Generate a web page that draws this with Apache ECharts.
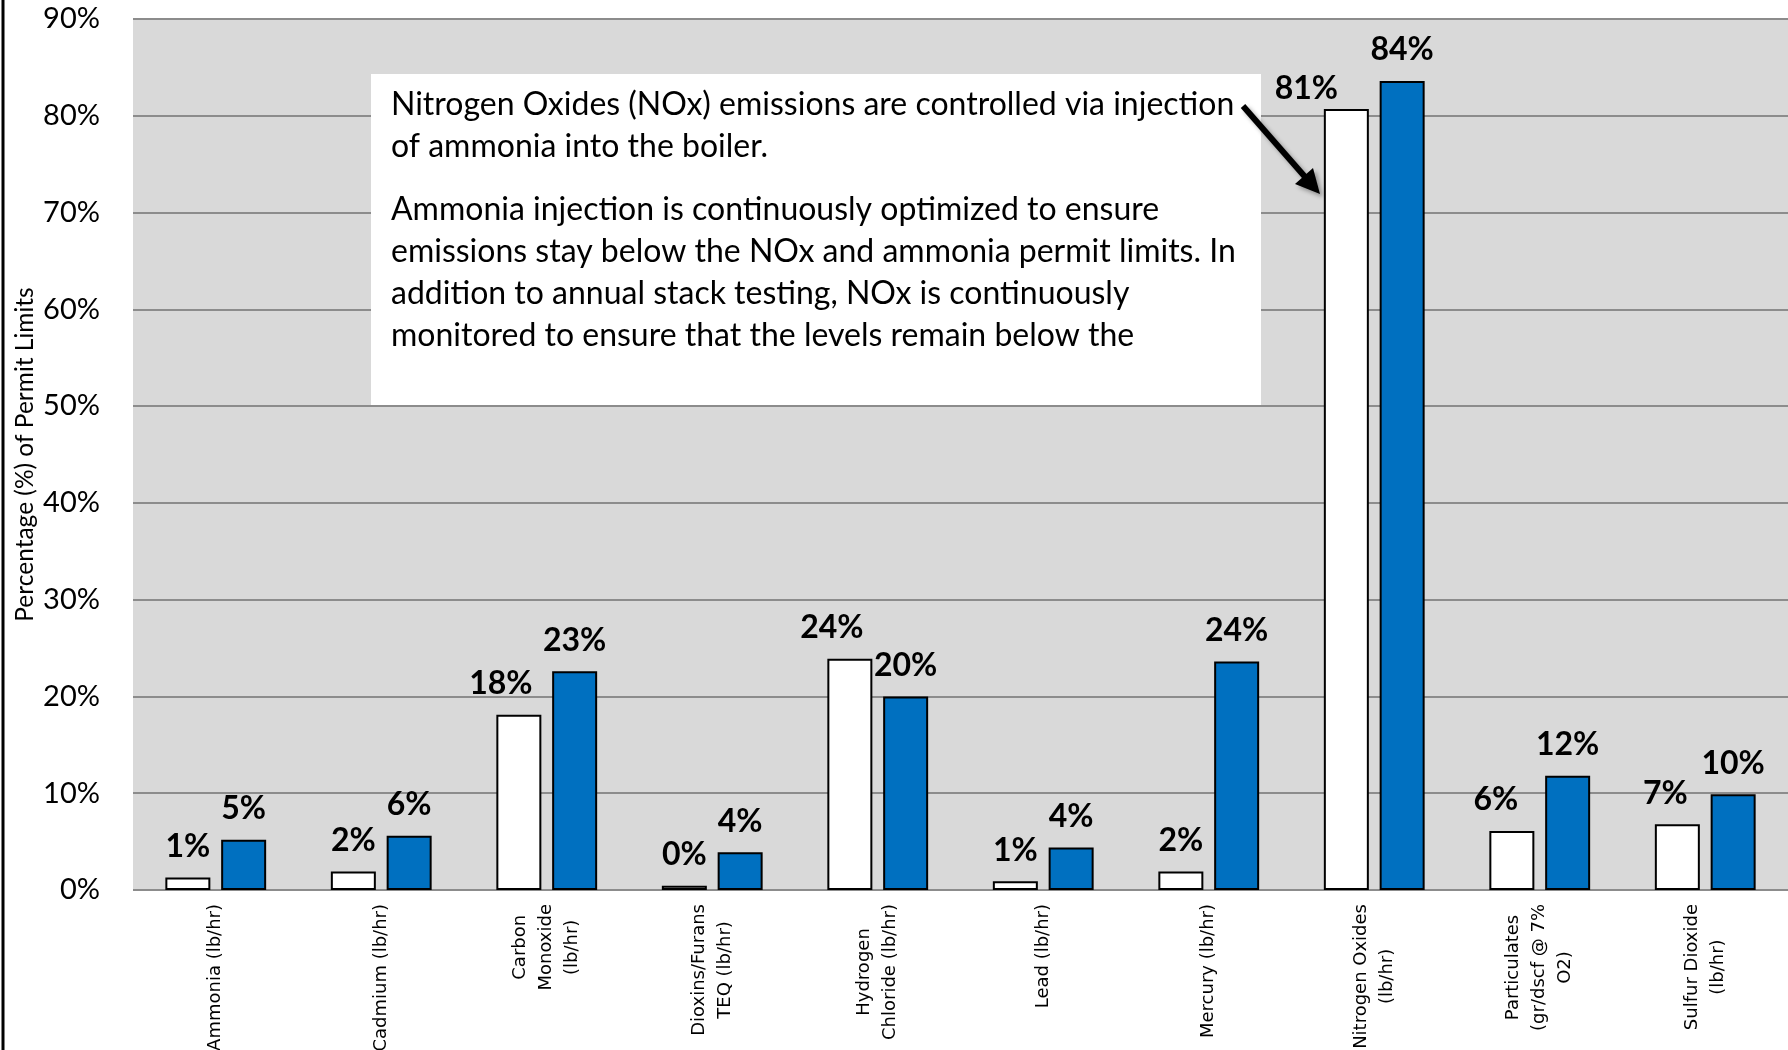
<!DOCTYPE html>
<html>
<head>
<meta charset="utf-8">
<script src="https://cdn.jsdelivr.net/npm/echarts@6/dist/echarts.min.js"></script>
<style>
  html, body { margin: 0; padding: 0; background: #fff; }
  #chart { width: 1788px; height: 1050px; }
</style>
</head>
<body>
<div id="chart"></div>
<script>
// categories (multi-line like the original axis)
var categories = [
    'Ammonia (lb/hr)',
    'Cadmium (lb/hr)',
    'Carbon\nMonoxide\n(lb/hr)',
    'Dioxins/Furans\nTEQ (lb/hr)',
    'Hydrogen\nChloride (lb/hr)',
    'Lead (lb/hr)',
    'Mercury (lb/hr)',
    'Nitrogen Oxides\n(lb/hr)',
    'Particulates\n(gr/dscf @ 7%\nO2)',
    'Sulfur Dioxide\n(lb/hr)'
];
// % of permit limit
var whiteValues = [1.3, 1.9, 18.1, 0.45, 23.9, 0.9, 1.9, 80.7, 6.1, 6.8];
var blueValues = [5.2, 5.6, 22.6, 3.9, 20.0, 4.4, 23.6, 83.6, 11.8, 9.9];
var yTicks = [0, 10, 20, 30, 40, 50, 60, 70, 80, 90];

var noteText1 = 'Nitrogen Oxides (NOx) emissions are controlled via injection\nof ammonia into the boiler.';
var noteText2 = 'Ammonia injection is continuously optimized to ensure\nemissions stay below the NOx and ammonia permit limits. In\naddition to annual stack testing, NOx is continuously\nmonitored to ensure that the levels remain below the';

// label nudges for the white series (moved by hand in the original)
var whiteLabelShift = [[0, 0], [0, 0], [-18, 0], [0, 0], [-18, 0], [0, 0], [0, 0], [-40, 11], [-16, 0], [-12, 0]];

var chart = echarts.init(document.getElementById('chart'));

var labelStyle = {
    show: true,
    position: 'top',
    distance: 15,
    fontFamily: 'Lato',
    fontWeight: 'bold',
    fontSize: 32,
    color: '#000',
    formatter: function (p) {
        return Math.round(p.value) + '%';
    }
};

var whiteData = whiteValues.map(function (v, i) {
    return {
        value: v,
        label: {offset: whiteLabelShift[i]}
    };
});

var arrowShadow = {shadowBlur: 4, shadowOffsetX: 3, shadowOffsetY: 3, shadowColor: 'rgba(0,0,0,0.35)'};

chart.setOption({
    animation: false,
    grid: {
        left: 133,
        top: 19,
        right: 0,
        bottom: 160,
        outerBoundsMode: 'none',
        show: true,
        backgroundColor: '#d9d9d9',
        borderWidth: 0
    },
    xAxis: {
        type: 'category',
        data: categories,
        axisLine: {show: false},
        axisTick: {show: false},
        axisLabel: {
            rotate: 90,
            margin: 14,
            interval: 0,
            fontFamily: 'DejaVu Sans',
            fontSize: 18,
            lineHeight: 26,
            color: '#000',
            formatter: function (v) {
                return v.split('\n').map(function (s) {
                    return '{c|' + s + '}';
                }).join('\n');
            },
            rich: {
                c: {
                    align: 'center',
                    fontFamily: 'DejaVu Sans',
                    fontSize: 18,
                    lineHeight: 26,
                    color: '#000'
                }
            }
        }
    },
    yAxis: {
        type: 'value',
        min: yTicks[0],
        max: yTicks[yTicks.length - 1],
        interval: 10,
        name: 'Percentage (%) of Permit Limits',
        nameLocation: 'middle',
        nameGap: 95,
        nameMoveOverlap: false,
        nameTextStyle: {
            fontFamily: 'Lato',
            fontSize: 24.5,
            color: '#000'
        },
        axisLine: {show: false},
        axisTick: {show: false},
        axisLabel: {
            margin: 33,
            fontFamily: 'Lato',
            fontSize: 29,
            color: '#000',
            formatter: '{value}%'
        },
        splitLine: {
            lineStyle: {color: '#8c8c8c', width: 2}
        }
    },
    series: [
        {
            name: 'Previous',
            type: 'bar',
            barWidth: 45,
            barGap: '24%',
            data: whiteData,
            itemStyle: {color: '#ffffff', borderColor: '#000', borderWidth: 2},
            label: labelStyle
        },
        {
            name: 'Current',
            type: 'bar',
            barWidth: 45,
            data: blueValues,
            itemStyle: {color: '#0070c0', borderColor: '#000', borderWidth: 2},
            label: labelStyle
        }
    ],
    graphic: [
        // chart area border on the left
        {
            type: 'line',
            shape: {x1: 3, y1: 0, x2: 3, y2: 1050},
            style: {stroke: '#000', lineWidth: 3}
        },
        // note box
        {
            type: 'rect',
            shape: {x: 371, y: 74, width: 890, height: 331},
            style: {fill: '#fff'},
            z: 10
        },
        {
            type: 'text',
            x: 391,
            y: 84,
            style: {
                text: noteText1,
                font: '32px Lato',
                lineHeight: 42,
                fill: '#000'
            },
            z: 11
        },
        {
            type: 'text',
            x: 391,
            y: 189,
            style: {
                text: noteText2,
                font: '32px Lato',
                lineHeight: 42,
                fill: '#000'
            },
            z: 11
        },
        // arrow pointing at the NOx bar
        {
            type: 'line',
            z: 12,
            shape: {x1: 1243, y1: 106, x2: 1306, y2: 178},
            style: Object.assign({stroke: '#000', lineWidth: 6}, arrowShadow)
        },
        {
            type: 'polygon',
            z: 12,
            shape: {points: [[1320, 194], [1295, 184], [1313, 168]]},
            style: Object.assign({fill: '#000'}, arrowShadow)
        }
    ]
});
</script>
</body>
</html>
